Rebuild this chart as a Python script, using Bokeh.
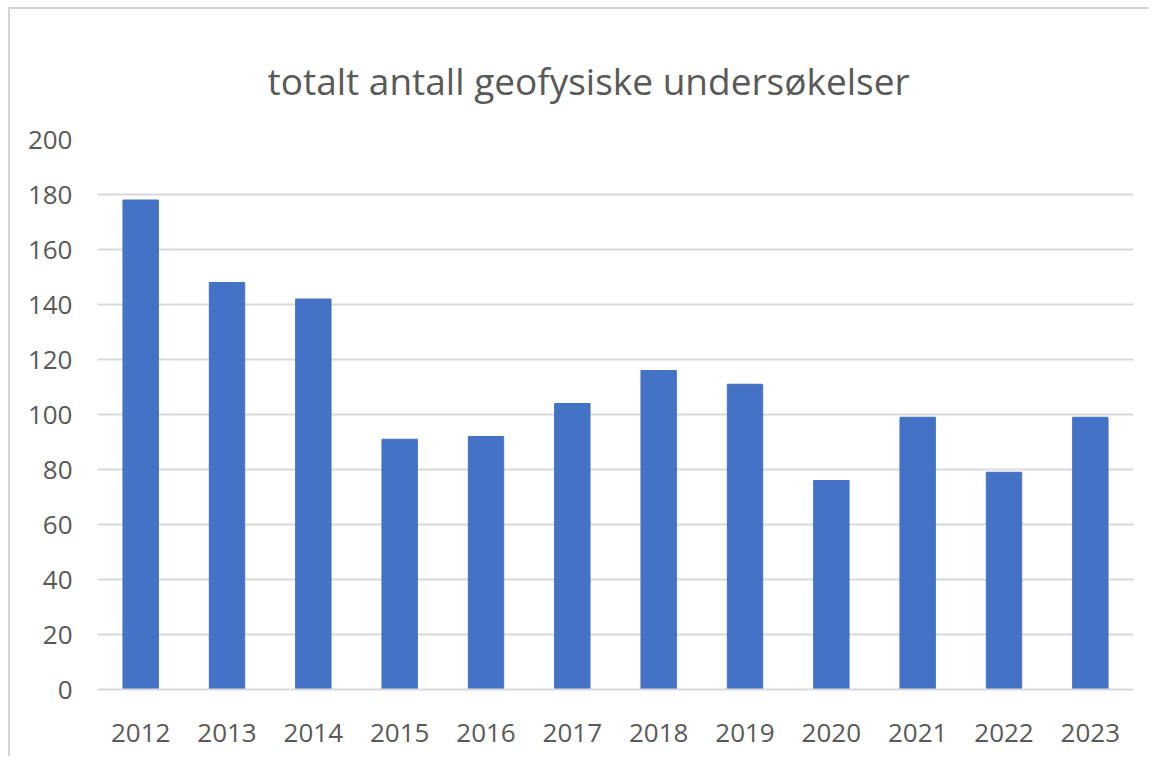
from bokeh.plotting import figure
from bokeh.models import FactorRange, Range1d, FixedTicker
from bokeh.embed import file_html
from bokeh.resources import INLINE

years = ["2012", "2013", "2014", "2015", "2016", "2017", "2018", "2019", "2020", "2021", "2022", "2023"]
counts = [178, 148, 142, 91, 92, 104, 116, 111, 76, 99, 79, 99]
y_ticks = [0, 20, 40, 60, 80, 100, 120, 140, 160, 180, 200]
title_text = "totalt antall geofysiske undersøkelser"

FONT = "Open Sans"
GREY = "#595959"
GRID = "#d9d9d9"

p = figure(
    x_range=FactorRange(*years, range_padding=0.0),
    y_range=Range1d(0, 200),
    width=1141, height=749,
    output_backend="svg", toolbar_location=None,
    min_border_left=87, min_border_right=18, min_border_top=130, min_border_bottom=69,
)
p.styles = {"margin-left": "8px", "margin-top": "7px",
            "border-left": "2px solid #d4d4d4", "border-top": "2px solid #d4d4d4"}

p.vbar(x=years, top=counts, width=0.41, fill_color="#4472c4", line_color="#4472c4")

p.title.text = title_text
p.title.align = "left"
p.title.offset = 170
p.title.standoff = 67
p.title.text_font = FONT
p.title.text_font_size = "37px"
p.title.text_font_style = "normal"
p.title.text_color = GREY

p.outline_line_color = None
p.background_fill_color = "white"
p.border_fill_color = "white"

p.xgrid.grid_line_color = None
p.ygrid.grid_line_color = GRID
p.ygrid.grid_line_width = 2
p.yaxis.ticker = FixedTicker(ticks=y_ticks)

for ax in (p.xaxis, p.yaxis):
    ax.major_label_text_font = FONT
    ax.major_label_text_font_size = "26px"
    ax.major_label_text_color = GREY
    ax.major_tick_line_color = None
    ax.minor_tick_line_color = None
    ax.major_tick_out = 0
    ax.major_tick_in = 0

p.yaxis.axis_line_color = None
p.yaxis.major_label_standoff = 25
p.xaxis.axis_line_color = GRID
p.xaxis.axis_line_width = 2
p.xaxis.major_label_standoff = 34

open("out.html", "w").write(file_html(p, INLINE))
